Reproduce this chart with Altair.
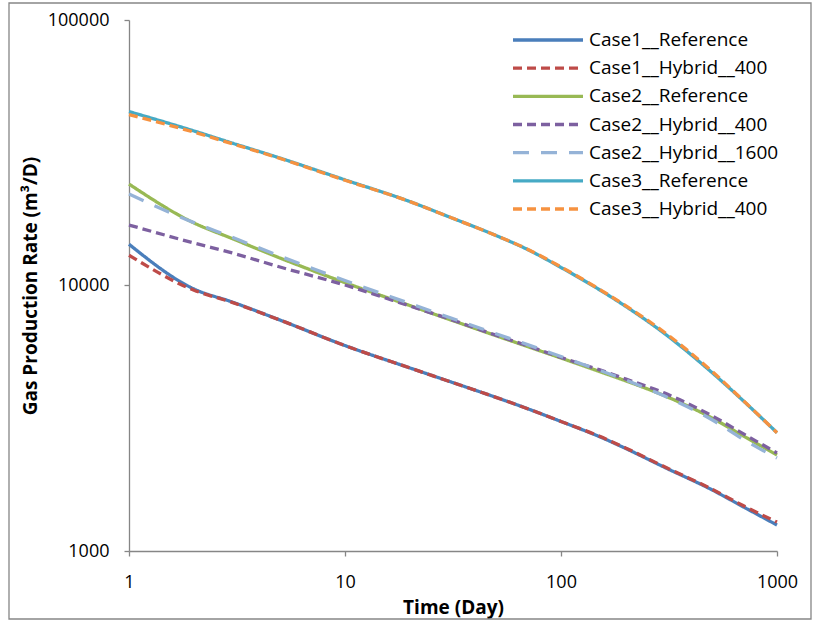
import altair as alt
import pandas as pd

# Time axis samples (days) shared by every series
days = [1, 2, 3, 5, 10, 20, 30, 50, 70, 100, 150, 200, 300, 500, 700, 1000]

# Gas production rate, m3/D
case1_reference = [14300, 9700, 8670, 7410, 5940, 4890, 4370, 3790, 3436, 3075, 2700, 2430, 2070, 1700, 1465, 1253]
case1_hybrid_400 = [13000, 9600, 8640, 7410, 5940, 4890, 4370, 3790, 3436, 3075, 2710, 2440, 2080, 1710, 1480, 1285]
case2_reference = [24100, 17200, 15030, 12690, 10250, 8400, 7480, 6470, 5890, 5330, 4750, 4370, 3850, 3170, 2710, 2300]
case2_hybrid_400 = [16900, 14450, 13260, 11740, 10040, 8370, 7510, 6500, 5930, 5360, 4820, 4440, 3940, 3230, 2760, 2340]
case2_hybrid_1600 = [22100, 17250, 15200, 12900, 10440, 8550, 7610, 6580, 5990, 5400, 4800, 4400, 3840, 3120, 2630, 2240]
case3_reference = [45200, 38200, 34400, 30200, 25000, 20700, 18200, 15430, 13665, 11690, 9660, 8330, 6610, 4700, 3670, 2790]
case3_hybrid_400 = [44000, 37800, 34200, 30100, 24900, 20700, 18200, 15430, 13700, 11750, 9700, 8380, 6680, 4750, 3680, 2790]

series_names = [
    "Case1__Reference",
    "Case1__Hybrid__400",
    "Case2__Reference",
    "Case2__Hybrid__400",
    "Case2__Hybrid__1600",
    "Case3__Reference",
    "Case3__Hybrid__400",
]
series_values = [
    case1_reference,
    case1_hybrid_400,
    case2_reference,
    case2_hybrid_400,
    case2_hybrid_1600,
    case3_reference,
    case3_hybrid_400,
]
series_colors = ["#4A7EBB", "#BE4B48", "#98B954", "#7D60A0", "#95B3D7", "#46AAC5", "#F69240"]
series_dashes = [[1, 0], [9, 5], [1, 0], [9, 5], [16, 12], [1, 0], [9, 5]]

rows = []
for name, values in zip(series_names, series_values):
    for d, v in zip(days, values):
        rows.append({"series": name, "day": d, "rate": v})
df = pd.DataFrame(rows)
legend_df = pd.DataFrame({"series": series_names, "row": list(range(len(series_names)))})

FONT = "Open Sans"
AXIS_GRAY = "#868686"
LINE_WIDTH = 3.3

color_scale = alt.Scale(domain=series_names, range=series_colors)
dash_scale = alt.Scale(domain=series_names, range=series_dashes)

x_enc = alt.X(
    "day:Q",
    scale=alt.Scale(type="log", domain=[1, 1000]),
    axis=alt.Axis(
        values=[1, 10, 100, 1000],
        format="d",
        title="Time (Day)",
        grid=False,
        labelFlush=False,
        labelPadding=17,
        titleY=56,
        titleBaseline="middle",
    ),
)
y_enc = alt.Y(
    "rate:Q",
    scale=alt.Scale(type="log", domain=[1000, 100000]),
    axis=alt.Axis(
        values=[1000, 10000, 100000],
        format="d",
        title="Gas Production Rate (m³/D)",
        grid=False,
        labelFlush=False,
        labelPadding=15,
        titleX=-99,
        titleY=265.5,
        titleAngle=-90,
        titleBaseline="middle",
        titleAlign="center",
    ),
)

# One layer per series so later series are drawn on top
series_layers = []
for name in series_names:
    series_layers.append(
        alt.Chart(df)
        .transform_filter(alt.datum.series == name)
        .mark_line(strokeWidth=LINE_WIDTH, interpolate="monotone")
        .encode(
            x=x_enc,
            y=y_enc,
            color=alt.Color("series:N", scale=color_scale, legend=None),
            strokeDash=alt.StrokeDash("series:N", scale=dash_scale, legend=None),
        )
    )
lines = alt.layer(*series_layers)

# Legend block in the upper right of the plot: one row per series
row_y = alt.Y(
    "row:Q",
    scale=alt.Scale(domain=[0, len(series_names) - 1], range=[20, 189]),
    axis=None,
)
legend_keys = (
    alt.Chart(legend_df)
    .mark_rule(strokeWidth=LINE_WIDTH)
    .encode(
        x=alt.value(384),
        x2=alt.value(454),
        y=row_y,
        color=alt.Color("series:N", scale=color_scale, legend=None),
        strokeDash=alt.StrokeDash("series:N", scale=dash_scale, legend=None),
    )
)
legend_labels = (
    alt.Chart(legend_df)
    .mark_text(align="left", baseline="middle", font=FONT, fontSize=19, color="black")
    .encode(x=alt.value(460), y=row_y, text="series:N")
)
legend_block = alt.layer(legend_keys, legend_labels)

# Outer chart frame
frame = (
    alt.Chart(pd.DataFrame({"k": [0]}))
    .mark_rect(filled=False, stroke=AXIS_GRAY, strokeWidth=1.3, clip=False)
    .encode(
        x=alt.value(-120),
        x2=alt.value(682),
        y=alt.value(-17),
        y2=alt.value(599),
    )
)

chart = (
    alt.layer(lines, legend_block, frame)
    .resolve_scale(y="independent")
    .properties(
        width=648,
        height=531,
        padding={"left": 129, "top": 20, "right": 40, "bottom": 71},
        autosize=alt.AutoSizeParams(type="none"),
        background="white",
    )
    .configure_view(stroke=None)
    .configure_axis(
        domainColor=AXIS_GRAY,
        domainWidth=1.3,
        tickColor=AXIS_GRAY,
        tickWidth=1.3,
        tickSize=5,
        labelFont=FONT,
        labelFontSize=18,
        labelColor="black",
        titleFont=FONT,
        titleFontSize=19,
        titleFontWeight="bold",
        titleColor="black",
    )
)

chart.save("out.html", embed_options={"renderer": "svg", "actions": False})
